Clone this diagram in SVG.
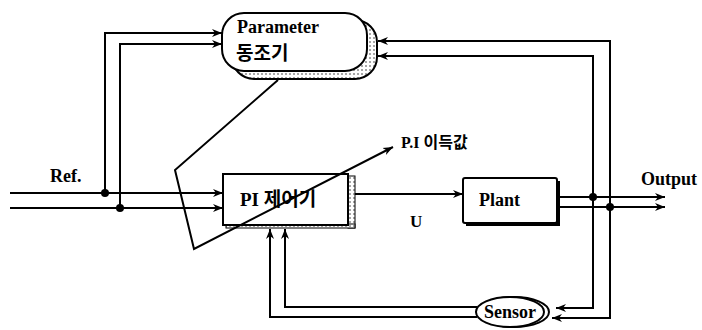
<svg xmlns="http://www.w3.org/2000/svg" width="702" height="330" viewBox="0 0 702 330">
<defs>
<style>
.ln{fill:none;stroke:#000;stroke-width:2}
.box{fill:#fff;stroke:#000;stroke-width:2}
.t{font-family:"Liberation Serif","Noto Sans CJK KR",serif;font-weight:bold;fill:#000}
.dot{fill:#000}
</style>
<marker id="ah" viewBox="0 0 10 10" refX="10" refY="5" markerWidth="10" markerHeight="10" markerUnits="userSpaceOnUse" orient="auto">
<path d="M0,1 L10,5 L0,9 L3,5 Z" fill="#000"/>
</marker>
<pattern id="dots" width="4" height="4" patternUnits="userSpaceOnUse">
<rect width="4" height="4" fill="#fff"/>
<circle cx="2" cy="2" r="1" fill="#888"/>
</pattern>
</defs>
<rect width="702" height="330" fill="#fff"/>

<g id="parameter">
<rect x="232" y="20" width="145" height="59" rx="22" fill="url(#dots)" stroke="#000" stroke-width="2"/>
<rect class="box" x="222" y="13" width="145" height="58" rx="22"/>
<text class="t" x="237" y="33" font-size="18">Parameter</text>
<text class="t" x="236" y="60" font-size="19">동조기</text>
</g>

<g id="pi">
<rect x="348" y="176" width="7" height="52" fill="url(#dots)" stroke="#000" stroke-width="1"/>
<rect x="226" y="224" width="129" height="4" fill="url(#dots)" stroke="#000" stroke-width="1"/>
<rect class="box" x="223" y="174" width="125" height="51"/>
<text class="t" x="240" y="206" font-size="19">PI  제어기</text>
</g>

<g id="plant">
<rect x="466" y="181" width="94" height="45" fill="#000"/>
<rect class="box" x="463" y="178" width="94" height="45" rx="2"/>
<text class="t" x="479" y="206" font-size="18">Plant</text>
</g>

<g id="sensor">
<ellipse cx="514" cy="312" rx="35" ry="15" fill="#fff" stroke="#000" stroke-width="2"/>
<ellipse cx="510" cy="312" rx="34" ry="15" fill="#fff" stroke="#000" stroke-width="2"/>
<text class="t" x="510" y="318" font-size="18" text-anchor="middle">Sensor</text>
</g>

<g id="labels">
<text class="t" x="50" y="182" font-size="18">Ref.</text>
<text class="t" x="641" y="185" font-size="18">Output</text>
<text class="t" x="410" y="227" font-size="17">U</text>
<text class="t" x="401" y="148" font-size="16">P.I 이득값</text>
</g>

<g id="connectors">
<path class="ln" d="M10,193 H223" marker-end="url(#ah)"/>
<path class="ln" d="M10,208 H223" marker-end="url(#ah)"/>
<path class="ln" d="M105,193 V33 H222" marker-end="url(#ah)"/>
<path class="ln" d="M120,208 V44 H222" marker-end="url(#ah)"/>
<circle class="dot" cx="105" cy="193" r="4"/>
<circle class="dot" cx="120" cy="208" r="4"/>
<path class="ln" d="M355,194 H463" marker-end="url(#ah)"/>
<path class="ln" d="M558,197 H665" marker-end="url(#ah)"/>
<path class="ln" d="M558,207 H665" marker-end="url(#ah)"/>
<circle class="dot" cx="593" cy="197" r="4"/>
<circle class="dot" cx="610" cy="207" r="4"/>
<path class="ln" d="M610,207 V41 H378" marker-end="url(#ah)"/>
<path class="ln" d="M593,197 V56 H378" marker-end="url(#ah)"/>
<path class="ln" d="M593,197 V308 H556" marker-end="url(#ah)"/>
<path class="ln" d="M610,207 V318 H552" marker-end="url(#ah)"/>
<path class="ln" d="M477,307 H285 V229" marker-end="url(#ah)"/>
<path class="ln" d="M477,317 H270 V229" marker-end="url(#ah)"/>
<path class="ln" d="M278,80 L175,170 L194,249 L393,147" marker-end="url(#ah)"/>
</g>
</svg>
